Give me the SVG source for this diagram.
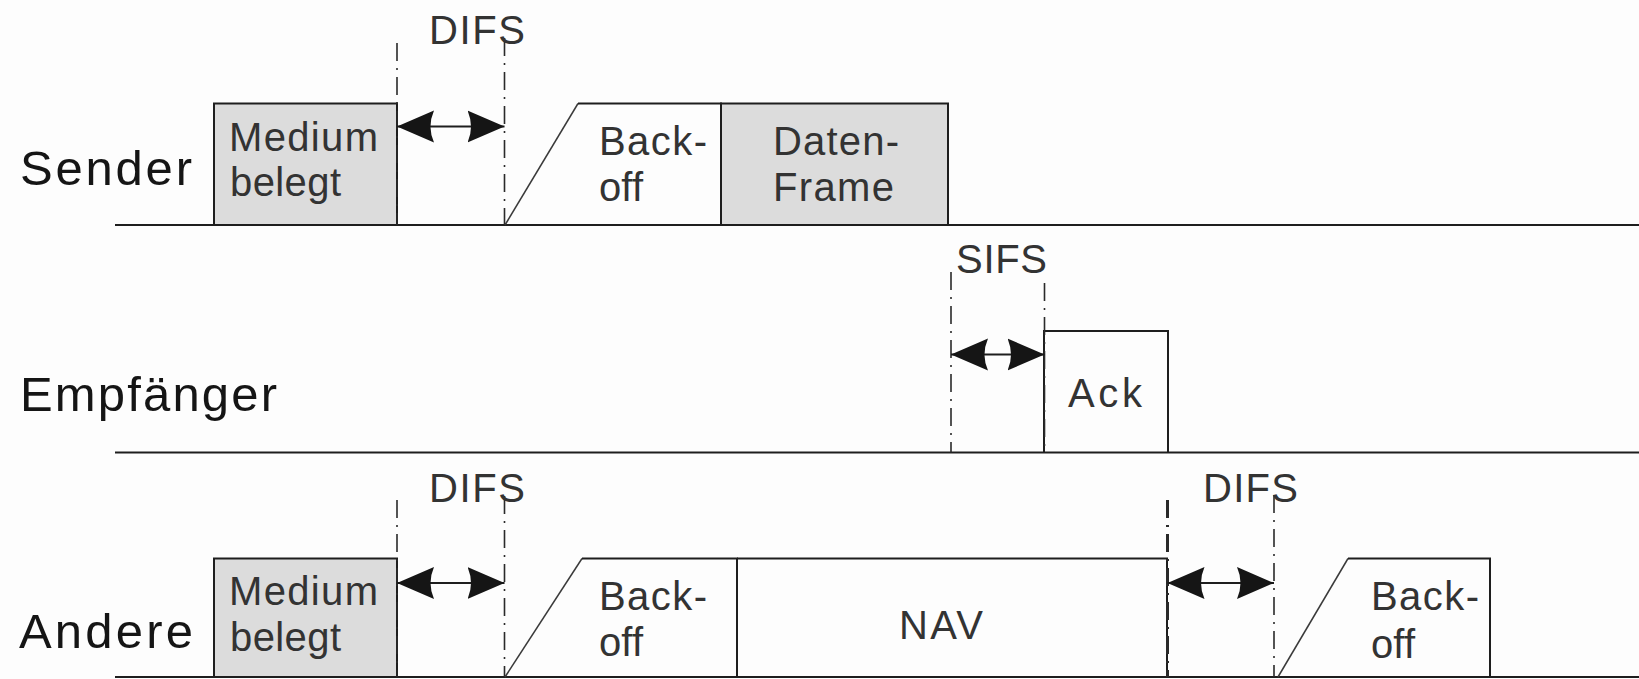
<svg xmlns="http://www.w3.org/2000/svg" width="1639" height="679" viewBox="0 0 1639 679">
<defs>
<style>
.bg{fill:#fdfdfd}
.axis{stroke:#1e1e1e;stroke-width:2;fill:none}
.box{stroke:#1e1e1e;stroke-width:2}
.busy{fill:#dcdcdc}
.edge{stroke:#1e1e1e;stroke-width:2;fill:none}
.slope{stroke:#3a3a3a;stroke-width:1.5;fill:none}
.dd{stroke:#2a2a2a;stroke-width:1.6;fill:none;stroke-dasharray:18 7 2 7}
.arr{stroke:#1e1e1e;stroke-width:2;fill:none;marker-start:url(#ah);marker-end:url(#ah)}
.row{font-family:"Liberation Sans",Arial,sans-serif;font-size:49px;fill:#151515}
.lbl{font-family:"Liberation Sans",Arial,sans-serif;font-size:40px;fill:#333}
</style>
<marker id="ah" markerUnits="userSpaceOnUse" viewBox="0 -17 38 34" markerWidth="38" markerHeight="34" refX="37" refY="0" orient="auto-start-reverse">
<path d="M0,-16 Q7,0 0,16 L37,0 Z" fill="#151515"/>
</marker>
</defs>
<rect class="bg" x="0" y="0" width="1639" height="679"/>

<g id="rows">
<g id="row-sender">
<text class="row" x="20" y="185" textLength="172" lengthAdjust="spacing">Sender</text>
<line class="axis" x1="115" y1="225" x2="1639" y2="225"/>
</g>
<g id="row-empfaenger">
<text class="row" x="20" y="411" textLength="257" lengthAdjust="spacing">Empfänger</text>
<line class="axis" x1="115" y1="452.5" x2="1639" y2="452.5"/>
</g>
<g id="row-andere">
<text class="row" x="19" y="648" textLength="174" lengthAdjust="spacing">Andere</text>
<line class="axis" x1="115" y1="677" x2="1639" y2="677"/>
</g>
</g>

<g id="sender-medium">
<rect class="box busy" x="214" y="103.5" width="183" height="121.5"/>
<text class="lbl" x="229" y="151" textLength="149" lengthAdjust="spacing">Medium</text>
<text class="lbl" x="230" y="196" textLength="111" lengthAdjust="spacing">belegt</text>
</g>
<g id="sender-backoff">
<path class="slope" d="M505,225 L578,103.5"/>
<path class="edge" d="M578,103.5 H721 V225"/>
<text class="lbl" x="599" y="155" textLength="108" lengthAdjust="spacing">Back-</text>
<text class="lbl" x="599" y="201" textLength="44" lengthAdjust="spacing">off</text>
</g>
<g id="sender-daten">
<rect class="box busy" x="721" y="103.5" width="227" height="121.5"/>
<text class="lbl" x="773" y="155" textLength="126" lengthAdjust="spacing">Daten-</text>
<text class="lbl" x="773" y="201" textLength="121" lengthAdjust="spacing">Frame</text>
</g>

<g id="empf-ack">
<path class="edge" d="M1044,452.5 V331 H1168 V452.5"/>
<text class="lbl" x="1068" y="407" textLength="74" lengthAdjust="spacing">Ack</text>
</g>

<g id="andere-medium">
<rect class="box busy" x="214" y="558.5" width="183" height="118.5"/>
<text class="lbl" x="229" y="605" textLength="149" lengthAdjust="spacing">Medium</text>
<text class="lbl" x="230" y="651" textLength="111" lengthAdjust="spacing">belegt</text>
</g>
<g id="andere-backoff1">
<path class="slope" d="M505,677 L582,558.5"/>
<path class="edge" d="M582,558.5 H737 V677"/>
<text class="lbl" x="599" y="610" textLength="108" lengthAdjust="spacing">Back-</text>
<text class="lbl" x="599" y="656" textLength="44" lengthAdjust="spacing">off</text>
</g>
<g id="andere-nav">
<path class="edge" d="M737,558.5 H1167 V677"/>
<text class="lbl" x="899" y="639" textLength="84" lengthAdjust="spacing">NAV</text>
</g>
<g id="andere-backoff2">
<path class="slope" d="M1278,677 L1348,558.5"/>
<path class="edge" d="M1348,558.5 H1490 V677"/>
<text class="lbl" x="1371" y="610" textLength="108" lengthAdjust="spacing">Back-</text>
<text class="lbl" x="1371" y="658" textLength="44" lengthAdjust="spacing">off</text>
</g>

<g id="connectors">
<line class="dd" x1="397" y1="43" x2="397" y2="225"/>
<line class="dd" x1="504.5" y1="38" x2="504.5" y2="225"/>
<line class="dd" x1="951" y1="272" x2="951" y2="452.5"/>
<line class="dd" x1="1044.5" y1="283" x2="1044.5" y2="452.5"/>
<line class="dd" x1="397" y1="500" x2="397" y2="677"/>
<line class="dd" x1="504.5" y1="496" x2="504.5" y2="677"/>
<line class="dd" x1="1167.5" y1="500" x2="1167.5" y2="677" style="stroke-width:3"/>
<line class="dd" x1="1274" y1="495" x2="1274" y2="677"/>
<line class="arr" x1="397" y1="126.5" x2="504.5" y2="126.5"/>
<line class="arr" x1="951" y1="354.5" x2="1044.5" y2="354.5"/>
<line class="arr" x1="397" y1="583" x2="504.5" y2="583"/>
<line class="arr" x1="1167.5" y1="583" x2="1274" y2="583"/>
</g>

<g id="interval-labels">
<text class="lbl" x="429" y="44" textLength="96" lengthAdjust="spacing">DIFS</text>
<text class="lbl" x="956" y="273" textLength="91" lengthAdjust="spacing">SIFS</text>
<text class="lbl" x="429" y="502" textLength="96" lengthAdjust="spacing">DIFS</text>
<text class="lbl" x="1203" y="502" textLength="95" lengthAdjust="spacing">DIFS</text>
</g>
</svg>
